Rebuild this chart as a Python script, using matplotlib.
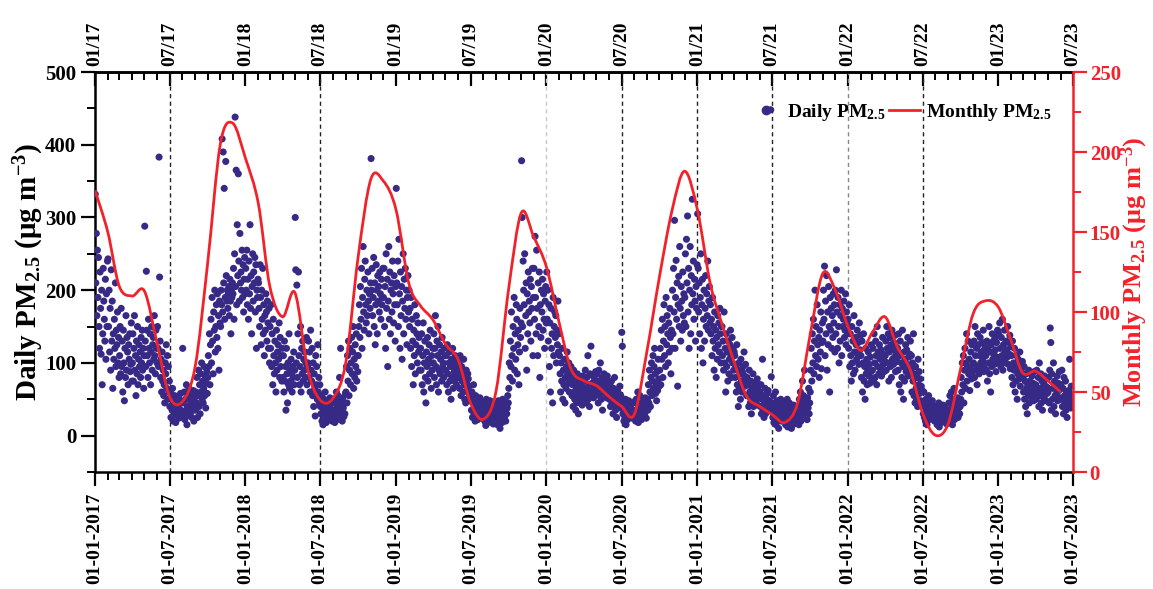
import calendar
from datetime import datetime, timedelta

import matplotlib
matplotlib.use("Agg")
import matplotlib.pyplot as plt
import matplotlib.dates as mdates
from matplotlib.lines import Line2D
from matplotlib.patches import PathPatch
from matplotlib.path import Path
from matplotlib.ticker import MultipleLocator

plt.rcParams.update({
    "font.family": ["Liberation Serif", "DejaVu Serif"],
    "font.weight": "bold",
    "axes.labelweight": "bold",
    "mathtext.fontset": "custom",
    "mathtext.rm": "Liberation Serif:bold",
    "mathtext.it": "Liberation Serif:bold:italic",
    "mathtext.bf": "Liberation Serif:bold",
})

# daily PM2.5 (ug m-3), one inner list per month
daily_2017 = [
    [332, 210, 278, 165, 255, 190, 245, 150, 120, 225, 175, 112, 200, 70, 140, 230, 185, 160, 130, 215, 105, 195, 150, 240],
    [243, 150, 200, 115, 175, 90, 228, 130, 185, 65, 140, 105, 160, 120, 210, 95, 145, 125, 170, 100, 135, 80],
    [110, 150, 85, 175, 95, 130, 60, 145, 100, 48, 120, 80, 165, 90, 135, 115, 70, 125, 105, 140, 88, 98, 155, 75],
    [100, 140, 75, 120, 165, 90, 110, 55, 130, 85, 150, 70, 105, 125, 95, 115, 80, 135, 100, 145, 90, 120, 65, 110],
    [288, 130, 95, 226, 145, 110, 80, 160, 120, 100, 140, 70, 115, 150, 90, 125, 135, 105, 165, 110, 85, 145, 120, 100],
    [150, 120, 95, 383, 218, 130, 80, 105, 60, 115, 75, 90, 55, 70, 45, 100, 85, 125, 65, 110, 50, 95, 60, 75],
    [40, 60, 25, 50, 35, 65, 20, 45, 30, 55, 38, 18, 48, 28, 42, 33, 52, 24, 44, 36, 58, 30, 47, 26],
    [120, 45, 30, 60, 22, 50, 35, 70, 15, 40, 55, 28, 65, 38, 48, 32, 58, 25, 44, 36, 62, 20, 52, 40],
    [35, 60, 45, 80, 25, 55, 90, 40, 70, 30, 85, 60, 100, 50, 75, 45, 65, 95, 55, 82, 38, 72, 88, 58],
    [80, 110, 95, 140, 70, 125, 160, 100, 190, 130, 85, 170, 145, 200, 115, 150, 180, 135, 195, 120, 165, 90, 185, 155],
    [150, 200, 180, 408, 170, 390, 210, 340, 160, 190, 377, 220, 185, 200, 175, 195, 205, 165, 215, 185, 140, 200, 190, 210],
    [195, 230, 160, 250, 438, 205, 365, 180, 290, 220, 360, 240, 185, 278, 210, 225, 200, 255, 190, 235, 170, 215, 245, 195],
]
daily_2018 = [
    [230, 200, 255, 180, 215, 160, 240, 195, 290, 175, 220, 140, 205, 250, 185, 225, 210, 245, 170, 235, 120, 200, 190, 215],
    [210, 175, 150, 235, 190, 125, 200, 160, 230, 140, 180, 110, 165, 145, 195, 170, 130, 185, 155, 120, 175, 100],
    [150, 120, 180, 95, 140, 70, 160, 110, 85, 130, 100, 60, 145, 90, 115, 125, 105, 155, 80, 135, 95, 110, 75, 120],
    [80, 110, 60, 130, 75, 95, 35, 120, 85, 45, 100, 70, 140, 65, 90, 75, 105, 85, 60, 95, 80, 115, 70, 90],
    [300, 228, 100, 207, 80, 140, 225, 110, 70, 95, 150, 60, 120, 85, 130, 75, 105, 90, 115, 80, 100, 135, 70, 95],
    [100, 130, 80, 115, 60, 145, 90, 75, 120, 55, 100, 40, 85, 65, 27, 110, 70, 95, 50, 125, 60, 80, 45, 70],
    [40, 30, 55, 20, 45, 15, 35, 50, 25, 60, 30, 18, 42, 28, 38, 48, 22, 33, 52, 26, 44, 36, 20, 30],
    [25, 50, 35, 18, 45, 30, 60, 22, 40, 55, 28, 48, 80, 35, 120, 32, 42, 20, 52, 38, 26, 45, 30, 58],
    [60, 95, 45, 110, 75, 130, 55, 90, 120, 70, 100, 135, 85, 115, 150, 65, 105, 80, 125, 95, 140, 75, 110, 88],
    [110, 150, 180, 135, 205, 160, 230, 120, 190, 260, 170, 145, 215, 240, 180, 155, 200, 165, 225, 185, 140, 195, 175, 210],
    [381, 200, 230, 165, 190, 245, 150, 210, 125, 180, 235, 200, 140, 220, 185, 205, 170, 225, 195, 160, 215, 180, 190, 230],
    [190, 230, 150, 205, 120, 250, 175, 215, 95, 185, 260, 160, 225, 140, 200, 210, 170, 240, 195, 155, 220, 180, 130, 205],
]
daily_2019 = [
    [340, 210, 180, 240, 150, 270, 195, 120, 225, 165, 205, 105, 185, 250, 140, 215, 175, 230, 160, 200, 125, 190, 220, 170],
    [200, 150, 175, 120, 190, 95, 160, 130, 70, 145, 110, 180, 85, 125, 165, 140, 100, 155, 115, 135, 90, 120],
    [120, 90, 140, 70, 110, 155, 60, 100, 130, 80, 45, 115, 95, 135, 75, 105, 125, 85, 145, 100, 65, 110, 90, 120],
    [100, 140, 80, 120, 165, 95, 70, 130, 110, 150, 60, 90, 125, 85, 105, 115, 75, 135, 95, 100, 80, 120, 90, 110],
    [90, 110, 70, 125, 85, 60, 100, 115, 75, 95, 50, 105, 80, 120, 65, 100, 88, 75, 110, 95, 70, 85, 105, 80],
    [80, 100, 65, 110, 90, 55, 95, 75, 85, 60, 105, 70, 50, 80, 45, 90, 72, 62, 85, 78, 58, 68, 52, 48],
    [50, 35, 60, 25, 45, 70, 30, 40, 20, 55, 35, 28, 48, 22, 38, 42, 32, 52, 26, 44, 36, 30, 46, 24],
    [30, 45, 20, 38, 14, 50, 25, 35, 18, 42, 28, 22, 48, 30, 20, 36, 26, 40, 16, 32, 24, 44, 28, 34],
    [25, 40, 15, 35, 48, 20, 30, 10, 45, 28, 38, 18, 50, 22, 32, 42, 26, 36, 20, 46, 30, 38, 55, 45],
    [65, 100, 80, 130, 95, 170, 110, 75, 150, 120, 190, 90, 140, 105, 180, 160, 85, 125, 145, 70, 115, 175, 135, 155],
    [378, 300, 150, 240, 200, 180, 250, 120, 165, 210, 90, 195, 140, 225, 170, 185, 155, 215, 130, 205, 175, 230, 110, 190],
    [230, 160, 274, 190, 140, 255, 175, 110, 210, 150, 225, 80, 180, 135, 200, 170, 215, 145, 195, 160, 120, 185, 205, 155],
]
daily_2020 = [
    [225, 160, 200, 130, 180, 95, 155, 60, 175, 120, 140, 45, 190, 110, 150, 170, 135, 165, 100, 145, 125, 185, 115, 140],
    [110, 85, 60, 100, 75, 120, 50, 90, 70, 105, 45, 80, 65, 95, 115, 85, 72, 100, 60, 88, 78, 95],
    [80, 55, 70, 40, 90, 60, 50, 75, 35, 65, 45, 85, 55, 30, 70, 62, 48, 78, 58, 68, 42, 82, 52, 66],
    [75, 55, 90, 60, 45, 80, 65, 110, 50, 70, 40, 85, 60, 123, 55, 72, 62, 82, 52, 68, 78, 58, 88, 64],
    [60, 85, 70, 45, 90, 55, 75, 100, 65, 50, 80, 35, 70, 60, 85, 72, 58, 78, 66, 52, 82, 62, 74, 68],
    [50, 70, 40, 60, 75, 45, 55, 30, 65, 40, 80, 50, 35, 60, 25, 52, 62, 42, 58, 48, 68, 38, 55, 45],
    [142, 123, 30, 45, 20, 38, 25, 50, 15, 35, 42, 22, 30, 48, 28, 40, 32, 26, 44, 36, 24, 34, 46, 28],
    [30, 45, 20, 50, 35, 25, 60, 18, 40, 28, 55, 32, 45, 22, 38, 42, 26, 48, 34, 30, 52, 36, 24, 44],
    [50, 35, 70, 45, 90, 60, 40, 80, 100, 55, 75, 110, 65, 95, 120, 85, 58, 72, 48, 88, 62, 105, 78, 68],
    [90, 120, 70, 145, 105, 160, 80, 130, 180, 110, 150, 95, 190, 125, 165, 140, 100, 155, 115, 175, 135, 85, 145, 120],
    [200, 140, 230, 170, 296, 120, 190, 241, 160, 210, 68, 180, 219, 150, 260, 175, 130, 205, 185, 145, 225, 165, 195, 155],
    [190, 250, 150, 270, 210, 302, 170, 230, 120, 200, 260, 140, 220, 180, 325, 195, 240, 160, 215, 185, 130, 205, 175, 235],
]
daily_2021 = [
    [305, 230, 170, 210, 140, 190, 250, 120, 180, 215, 100, 160, 200, 130, 175, 220, 150, 195, 165, 240, 145, 185, 205, 155],
    [180, 140, 160, 110, 190, 130, 150, 90, 170, 120, 145, 80, 135, 105, 165, 125, 155, 115, 175, 140, 100, 150],
    [150, 110, 130, 90, 170, 100, 120, 60, 140, 95, 115, 75, 130, 85, 105, 125, 145, 110, 80, 135, 100, 120, 90, 115],
    [110, 80, 95, 60, 125, 70, 90, 40, 100, 65, 85, 50, 105, 75, 60, 88, 95, 72, 115, 82, 68, 98, 78, 55],
    [80, 55, 70, 40, 90, 60, 45, 75, 30, 65, 50, 85, 40, 60, 55, 72, 48, 66, 58, 78, 42, 62, 52, 70],
    [60, 40, 70, 30, 50, 105, 35, 55, 25, 45, 65, 30, 52, 38, 58, 44, 62, 34, 48, 42, 36, 448, 81, 40],
    [45, 25, 55, 18, 40, 30, 60, 15, 35, 48, 22, 38, 10, 42, 28, 32, 50, 20, 36, 26, 44, 30, 24, 40],
    [30, 15, 40, 22, 50, 12, 35, 25, 45, 18, 38, 28, 10, 32, 20, 26, 42, 16, 34, 24, 36, 20, 28, 38],
    [25, 40, 15, 50, 30, 60, 20, 45, 35, 75, 28, 55, 40, 90, 35, 48, 32, 42, 22, 52, 38, 65, 30, 45],
    [60, 90, 120, 75, 140, 100, 160, 85, 130, 200, 110, 150, 95, 180, 125, 105, 135, 80, 145, 115, 170, 92, 128, 155],
    [130, 200, 160, 233, 110, 185, 140, 220, 90, 170, 125, 205, 150, 60, 190, 145, 175, 120, 165, 135, 195, 155, 180, 115],
    [200, 140, 228, 170, 120, 190, 150, 100, 180, 130, 165, 200, 110, 175, 150, 160, 185, 135, 145, 195, 125, 170, 155, 140],
]
daily_2022 = [
    [160, 120, 180, 95, 140, 110, 75, 150, 100, 130, 85, 165, 115, 90, 135, 125, 105, 145, 112, 128, 98, 155, 118, 138],
    [110, 80, 130, 60, 100, 140, 75, 95, 50, 120, 85, 105, 70, 90, 115, 82, 98, 72, 108, 88, 125, 78],
    [90, 120, 75, 140, 100, 80, 130, 110, 70, 150, 95, 115, 85, 125, 105, 92, 118, 82, 108, 135, 98, 112, 88, 102],
    [110, 130, 90, 150, 120, 100, 140, 75, 115, 135, 95, 125, 80, 145, 105, 118, 98, 128, 108, 138, 88, 122, 112, 102],
    [120, 90, 140, 70, 110, 130, 60, 100, 80, 145, 95, 50, 115, 75, 105, 125, 88, 118, 98, 135, 82, 108, 92, 112],
    [130, 90, 110, 60, 100, 75, 140, 55, 85, 45, 95, 65, 50, 80, 40, 105, 70, 88, 58, 78, 48, 68, 42, 62],
    [45, 30, 60, 25, 40, 20, 50, 35, 15, 45, 28, 55, 22, 38, 30, 42, 26, 34, 48, 24, 36, 32, 20, 40],
    [30, 20, 40, 15, 35, 25, 45, 12, 30, 22, 40, 18, 35, 28, 42, 26, 32, 20, 38, 24, 30, 16, 34, 28],
    [30, 45, 20, 55, 35, 25, 60, 40, 15, 50, 30, 65, 22, 45, 35, 28, 42, 32, 52, 25, 38, 48, 30, 40],
    [50, 80, 60, 100, 70, 110, 45, 90, 120, 65, 100, 140, 75, 95, 130, 85, 105, 62, 92, 115, 78, 125, 88, 98],
    [100, 130, 80, 150, 110, 90, 120, 70, 140, 95, 125, 85, 110, 135, 100, 115, 92, 128, 105, 145, 88, 118, 98, 122],
    [110, 90, 130, 75, 120, 100, 150, 85, 115, 60, 125, 95, 140, 105, 130, 112, 98, 135, 118, 88, 128, 108, 145, 102],
]
daily_2023 = [
    [140, 100, 155, 120, 95, 135, 110, 160, 90, 125, 105, 145, 115, 100, 130, 118, 108, 150, 98, 128, 112, 138, 92, 122],
    [110, 80, 130, 70, 100, 90, 120, 60, 95, 75, 110, 50, 85, 105, 92, 78, 115, 68, 98, 88, 82, 102],
    [80, 60, 95, 50, 75, 40, 85, 65, 30, 70, 55, 90, 45, 75, 60, 68, 52, 82, 62, 72, 48, 88, 58, 66],
    [70, 50, 90, 60, 60, 80, 40, 100, 65, 55, 85, 45, 75, 35, 60, 72, 52, 82, 62, 68, 48, 78, 58, 66],
    [60, 80, 45, 90, 148, 128, 35, 85, 50, 65, 100, 40, 75, 55, 30, 68, 58, 82, 48, 72, 62, 88, 52, 70],
    [70, 50, 90, 40, 65, 30, 80, 55, 45, 75, 35, 60, 25, 50, 40, 62, 48, 105, 58, 38, 68, 52, 44, 56],
]

# monthly mean PM2.5 (right axis), one value per month from Jan 2017
monthly_pm = [
    176, 150, 116, 110, 113, 80, 47, 44, 66, 130, 205, 218,
    196, 168, 116, 97, 112, 64, 45, 46, 68, 134, 183, 182,
    164, 118, 104, 95, 80, 70, 43, 33, 51, 114, 162, 147,
    128, 93, 64, 57, 54, 47, 41, 36, 76, 122, 164, 188,
    164, 118, 93, 68, 47, 41, 36, 31, 43, 85, 124, 114,
    91, 76, 87, 97, 78, 64, 37, 23, 30, 64, 99, 107,
    103, 82, 62, 63, 57, 50,
]

marker_dates = ["2017-07-01", "2018-07-01", "2020-01-01", "2020-07-01",
                "2021-01-01", "2021-07-01", "2022-01-01", "2022-07-01"]
marker_colors = ["#222222", "#222222", "#c8c8c8", "#222222",
                 "#222222", "#222222", "#888888", "#222222"]

DOT = "#372a87"
RED = "#f2222a"

daily_by_year = {2017: daily_2017, 2018: daily_2018, 2019: daily_2019,
                 2020: daily_2020, 2021: daily_2021, 2022: daily_2022,
                 2023: daily_2023}

dx, dy = [], []
for year, months in daily_by_year.items():
    for m, vals in enumerate(months, start=1):
        ndays = calendar.monthrange(year, m)[1]
        start = datetime(year, m, 1)
        for i, v in enumerate(vals):
            dx.append(mdates.date2num(start + timedelta(days=(i + 0.5) * ndays / len(vals))))
            dy.append(v)

mx = [mdates.date2num(datetime(2017 + k // 12, k % 12 + 1, 1)) for k in range(len(monthly_pm))]


def smooth_path(x, y):
    # Catmull-Rom style connection drawn as cubic Bezier segments
    verts = [(x[0], y[0])]
    codes = [Path.MOVETO]
    n = len(x)
    for i in range(n - 1):
        x0, y0 = (x[i - 1], y[i - 1]) if i > 0 else (x[i], y[i])
        x3, y3 = (x[i + 2], y[i + 2]) if i + 2 < n else (x[i + 1], y[i + 1])
        c1 = (x[i] + (x[i + 1] - x0) / 6, y[i] + (y[i + 1] - y0) / 6)
        c2 = (x[i + 1] - (x3 - x[i]) / 6, y[i + 1] - (y3 - y[i]) / 6)
        verts += [c1, c2, (x[i + 1], y[i + 1])]
        codes += [Path.CURVE4] * 3
    return Path(verts, codes)


fig = plt.figure(figsize=(11.53, 5.89), dpi=100)
ax = fig.add_axes([95 / 1153, 1 - 472 / 589, 978 / 1153, 400 / 589])
ax2 = ax.twinx()

ax.scatter(dx, dy, s=26, color=DOT, edgecolors="none", zorder=3)

for d, c in zip(marker_dates, marker_colors):
    ax.axvline(mdates.date2num(datetime.fromisoformat(d)), color=c, lw=1.0,
               ls=(0, (3, 2.5)), zorder=1)

ax2.add_patch(PathPatch(smooth_path(mx, monthly_pm), fill=False, edgecolor=RED,
                        lw=2.0, zorder=4))

ax.set_xlim(mdates.date2num(datetime(2017, 1, 1)), mdates.date2num(datetime(2023, 7, 1)))
ax.set_ylim(-50, 500)
ax2.set_ylim(0, 250)

ax.xaxis.set_major_locator(mdates.MonthLocator(bymonth=[1, 7]))
ax.xaxis.set_minor_locator(mdates.MonthLocator())
ax.xaxis.set_major_formatter(mdates.DateFormatter("%d-%m-%Y"))
ax.yaxis.set_major_locator(MultipleLocator(100))
ax.yaxis.set_minor_locator(MultipleLocator(50))
ax2.yaxis.set_major_locator(MultipleLocator(50))
ax2.yaxis.set_minor_locator(MultipleLocator(25))

ax.tick_params(axis="x", which="major", direction="out", length=10, width=1.6,
               labelsize=14, labelrotation=90, pad=5)
ax.tick_params(axis="x", which="minor", direction="out", length=6, width=1.4)
ax.tick_params(axis="y", which="major", direction="out", length=10, width=1.6,
               labelsize=15)
ax.tick_params(axis="y", which="minor", direction="out", length=6, width=1.4)
ax2.tick_params(axis="y", which="major", direction="out", length=10, width=1.6,
                labelsize=15, colors=RED, pad=2)
ax2.tick_params(axis="y", which="minor", direction="out", length=6, width=1.4,
                colors=RED)

top = ax.secondary_xaxis("top")
top.xaxis.set_major_locator(mdates.MonthLocator(bymonth=[1, 7]))
top.xaxis.set_minor_locator(mdates.MonthLocator())
top.xaxis.set_major_formatter(mdates.DateFormatter("%m/%y"))
top.tick_params(which="major", direction="in", length=10, width=1.6,
                labelsize=14, labelrotation=90, pad=4)
top.tick_params(which="minor", direction="in", length=6, width=1.4)
top.spines["top"].set_linewidth(1.8)

for side in ["left", "bottom", "top"]:
    ax.spines[side].set_linewidth(1.8)
ax.spines["right"].set_visible(False)
ax2.spines["right"].set_color(RED)
ax2.spines["right"].set_linewidth(1.8)
for side in ["left", "bottom", "top"]:
    ax2.spines[side].set_visible(False)

ax.set_ylabel(r"Daily PM$_\mathregular{2.5}$ ($\mathregular{\mu}$g m$^\mathregular{-3}$)",
              fontsize=21)
ax.yaxis.set_label_coords(-0.05, 0.5)
ax2.set_ylabel(r"Monthly PM$_\mathregular{2.5}$ ($\mathregular{\mu}$g m$^\mathregular{-3}$)",
               fontsize=19, color=RED)
ax2.yaxis.set_label_coords(1.047, 0.5)

handles = [
    Line2D([], [], ls="none", marker="o", markersize=6, color=DOT),
    Line2D([], [], color=RED, lw=2),
]
ax2.legend(handles, [r"Daily PM$_\mathregular{2.5}$", r"Monthly PM$_\mathregular{2.5}$"],
           loc="upper right", bbox_to_anchor=(0.99, 0.955), ncol=2, frameon=False,
           fontsize=14, handlelength=1.6, handletextpad=0.3, columnspacing=0.2,
           borderaxespad=0.2)

fig.savefig("out.png", dpi=100)
